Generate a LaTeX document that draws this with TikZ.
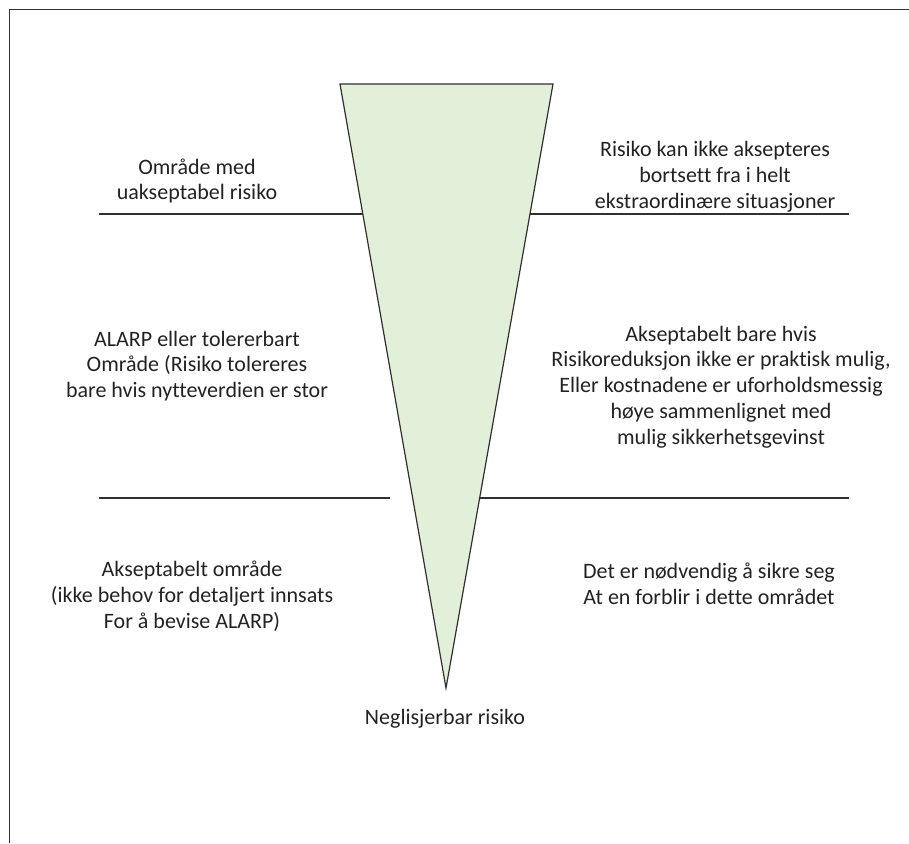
\documentclass[tikz,border=0pt]{standalone}
\usepackage{fontspec}
\setmainfont[Ligatures={NoCommon}]{Carlito}
\definecolor{linegray}{HTML}{303030}
\definecolor{trifill}{HTML}{E2EFD9}
\definecolor{txt}{HTML}{222222}
\begin{document}
\begin{tikzpicture}[x=1pt,y=-1pt,
  lbl/.style={align=center,inner sep=0pt,text=txt,font=\fontsize{22}{25.8}\selectfont},
  ln/.style={draw=linegray,line width=1.2pt}]
\useasboundingbox (0,0) rectangle (909,843);
% frame (clipped on right and bottom)
\draw[ln,line width=1pt] (9,843) -- (9,10) -- (909,10);
% triangle
\coordinate (tl) at (340,84);
\coordinate (tr) at (553,84);
\coordinate (ap) at (446,688);
\filldraw[ln,fill=trifill] (tl) -- (tr) -- (ap) -- cycle;
% horizontal lines
\coordinate (u1) at (99,214);
\coordinate (u2) at (362.8,214);
\coordinate (u3) at (530,214);
\coordinate (u4) at (849,214);
\coordinate (l1) at (99,498);
\coordinate (l2) at (390.4,498);
\coordinate (l3) at (480.4,498);
\coordinate (l4) at (849,498);
\draw[ln] (u1) -- (u2);
\draw[ln] (u3) -- (u4);
\draw[ln] (l1) -- (l2);
\draw[ln] (l3) -- (l4);
% texts
\node[lbl] (t1) at (197,181) {Område med\\uakseptabel risiko};
\node[lbl] (t2) at (715,177) {Risiko kan ikke aksepteres\\bortsett fra i helt\\ekstraordinære situasjoner};
\node[lbl] (t3) at (197,366) {ALARP eller tolererbart\\Område (Risiko tolereres\\bare hvis nytteverdien er stor};
\node[lbl] (t4) at (721,387) {Akseptabelt bare hvis\\Risikoreduksjon ikke er praktisk mulig,\\Eller kostnadene er uforholdsmessig\\høye sammenlignet med\\mulig sikkerhetsgevinst};
\node[lbl] (t5) at (192,596) {Akseptabelt område\\(ikke behov for detaljert innsats\\For å bevise ALARP)};
\node[lbl] (t6) at (709,584) {Det er nødvendig å sikre seg\\At en forblir i dette området};
\node[lbl] (t7) at (445,719) {Neglisjerbar risiko};
\end{tikzpicture}
\end{document}
